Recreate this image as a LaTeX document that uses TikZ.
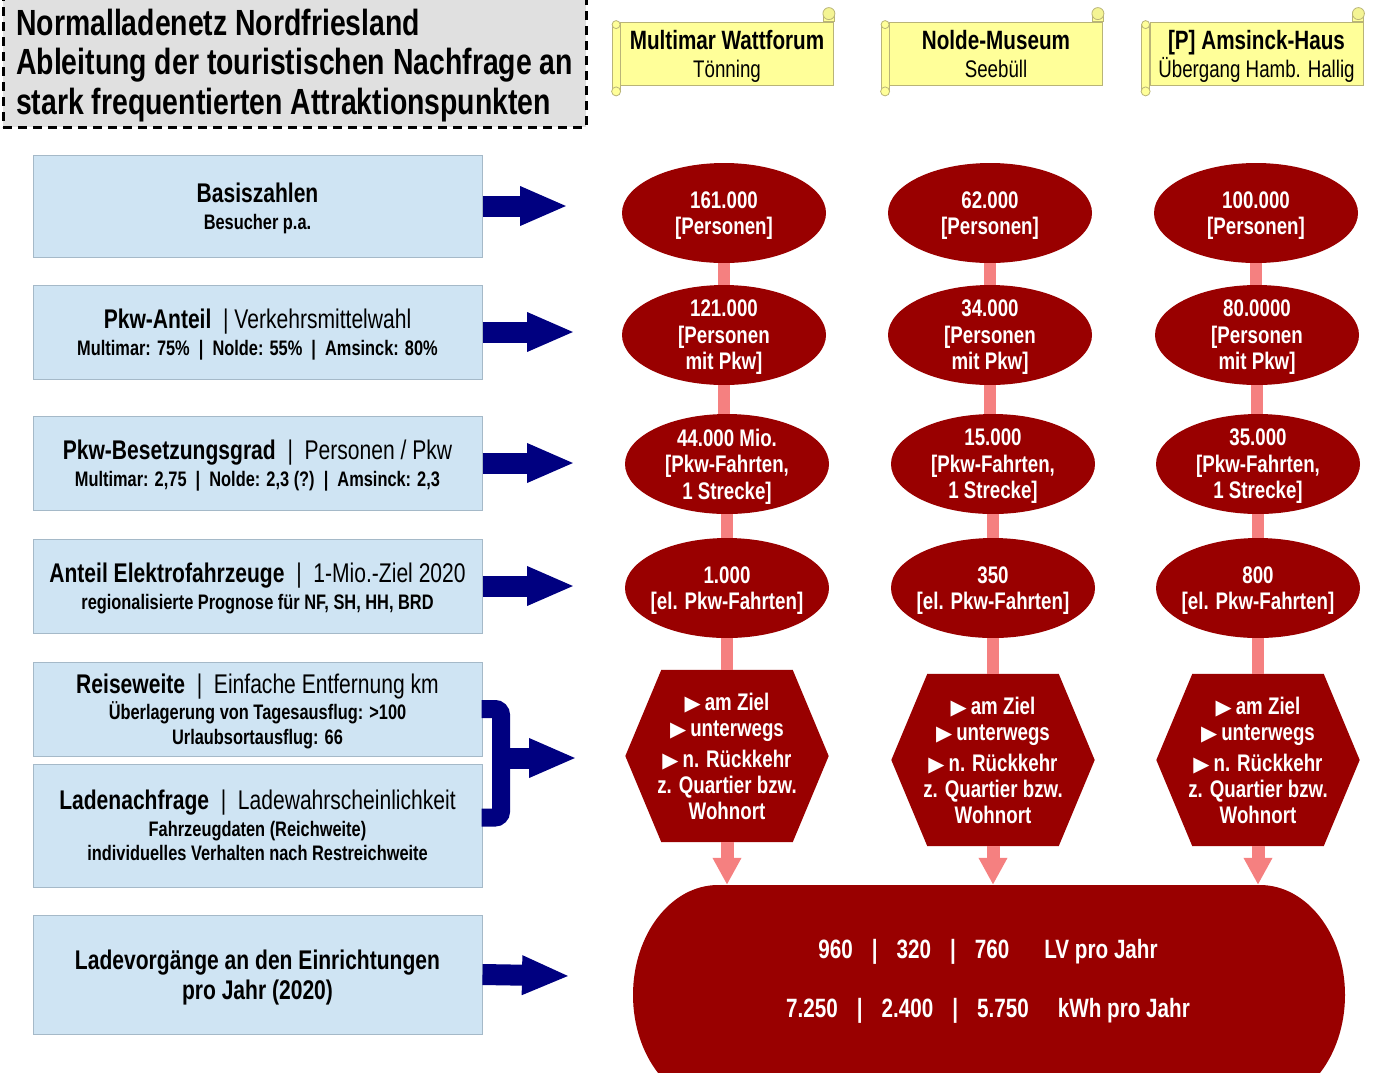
\documentclass[tikz,border=0pt]{standalone}
\usepackage{fontspec}
\setmainfont[FakeStretch=0.78]{Liberation Sans}
\newfontfamily\symfont{DejaVu Sans}
\usetikzlibrary{shapes.geometric,arrows.meta,backgrounds,calc}
\definecolor{dred}{RGB}{153,0,0}
\definecolor{pinkc}{RGB}{245,128,128}
\definecolor{navyc}{RGB}{0,0,128}
\definecolor{boxblue}{RGB}{207,228,243}
\definecolor{boxedge}{RGB}{165,185,200}
\definecolor{scrolly}{RGB}{255,255,153}
\definecolor{scrolle}{RGB}{185,180,120}
\definecolor{titlegray}{RGB}{224,224,224}
\newcommand\hdA{\fontsize{27}{27}\selectfont}
\newcommand\tri{{\fontsize{21}{26}\selectfont\symfont ▶}\,}
\newcommand\hexfill[1]{\fill[dred] (#1.west) -- ([xshift=36pt]#1.north west) -- ([xshift=-36pt]#1.north east) -- (#1.east) -- ([xshift=-36pt]#1.south east) -- ([xshift=36pt]#1.south west) -- cycle;}
\newcommand\scrolldeco[1]{%
  \filldraw[fill=scrolly,draw=scrolle,line width=0.8pt] ([xshift=-8pt,yshift=-3pt]#1.north west) rectangle ([yshift=-6pt]#1.south west);
  \filldraw[fill=scrolly,draw=scrolle,line width=0.8pt] ([xshift=-4pt,yshift=-6pt]#1.south west) circle[radius=4.5pt];
  \filldraw[fill=scrolly,draw=scrolle,line width=0.8pt] ([xshift=-4pt,yshift=-3pt]#1.north west) circle[radius=4pt];
  \filldraw[fill=scrolly,draw=scrolle,line width=0.8pt] ([xshift=-11pt]#1.north east) rectangle ([yshift=8pt]#1.north east);
  \filldraw[fill=scrolly!85!scrolle,draw=scrolle,line width=0.8pt] ([xshift=-5pt,yshift=8pt]#1.north east) circle[radius=6pt];
}
\begin{document}
\begin{tikzpicture}[x=1pt,y=-1pt,
  leftbox/.style={draw=boxedge, fill=boxblue, line width=1pt, minimum width=449pt, inner sep=0pt, text depth=0pt, align=center, font=\fontsize{21}{27}\selectfont\bfseries},
  redell/.style={ellipse, fill=dred, minimum width=204pt, minimum height=100pt, inner xsep=-5pt, inner ysep=-8pt, text depth=0pt, align=center, text=white, font=\fontsize{24}{26.5}\selectfont\bfseries},
  hexnode/.style={rectangle, minimum width=203pt, minimum height=172pt, inner sep=0pt, text depth=0pt, align=center, text=white, font=\fontsize{24}{26}\selectfont\bfseries},
  scrollbody/.style={draw=scrolle, fill=scrolly, line width=0.8pt, minimum width=213pt, minimum height=63pt, inner sep=0pt, text depth=0pt, align=center, font=\fontsize{24}{28}\selectfont},
  titlebox/.style={draw=black, fill=titlegray, line width=3pt, dash pattern=on 9pt off 6pt, minimum width=583pt, minimum height=137pt, inner sep=0pt},
  totalnode/.style={minimum width=712pt, minimum height=187pt, inner sep=0pt, text depth=0pt, align=center, text=white, font=\fontsize{26.5}{59}\selectfont\bfseries},
  bluearrow/.style={draw=navyc, line width=21pt, -{Triangle[length=48pt,width=36pt]}},
  bracestyle/.style={draw=navyc, line width=18pt, rounded corners=6pt},
  pinkline/.style={draw=pinkc, line width=12pt},
  pinkarrow/.style={draw=pinkc, line width=13pt, -{Triangle[length=27pt,width=27pt]}},
]
\useasboundingbox (0,0) rectangle (1375,1072);
\clip (0,0) rectangle (1375,1072);

% title
\node[titlebox] (title) at (294.5,58.5) {};
\node[anchor=west, align=left, inner sep=0pt, text depth=0pt, font=\fontsize{36.4}{39.5}\selectfont\bfseries] (ttext) at (16,61.5)
  {Normalladenetz Nordfriesland\\Ableitung der touristischen Nachfrage an\\stark frequentierten Attraktionspunkten};

% scrolls
\node[scrollbody] (s1) at (727,53.5) {{\fontsize{26.5}{28}\selectfont\bfseries Multimar Wattforum}\\Tönning};
\node[scrollbody] (s2) at (996,53.5) {{\fontsize{26.5}{28}\selectfont\bfseries Nolde-Museum}\\Seebüll};
\node[scrollbody] (s3) at (1256.5,53.5) {{\fontsize{26.5}{28}\selectfont\bfseries [P] Amsinck-Haus}\\Übergang Hamb. Hallig};
\begin{scope}[on background layer]
\scrolldeco{s1}\scrolldeco{s2}\scrolldeco{s3}
\end{scope}

% left boxes
\node[leftbox, minimum height=102pt] (b1) at (257.5,206) {{\hdA Basiszahlen}\\Besucher p.a.};
\node[leftbox, minimum height=94pt] (b2) at (257.5,332) {{\hdA Pkw-Anteil\ \ {\mdseries|\ Verkehrsmittelwahl}}\\Multimar: 75\%\ \ |\ \ Nolde: 55\%\ \ |\ \ Amsinck: 80\%};
\node[leftbox, minimum height=94pt] (b3) at (257.5,463) {{\hdA Pkw-Besetzungsgrad\ \ {\mdseries|\ \ Personen / Pkw}}\\Multimar: 2,75\ \ |\ \ Nolde: 2,3 (?)\ \ |\ \ Amsinck: 2,3};
\node[leftbox, minimum height=94pt] (b4) at (257.5,586) {{\hdA Anteil Elektrofahrzeuge\ \ {\mdseries|\ \ 1-Mio.-Ziel 2020}}\\regionalisierte Prognose für NF, SH, HH, BRD};
\node[leftbox, minimum height=94pt, font=\fontsize{21}{24.5}\selectfont\bfseries] (b5) at (257.5,709) {{\hdA Reiseweite\ \ {\mdseries|\ \ Einfache Entfernung km}}\\[1.5pt]Überlagerung von Tagesausflug: >100\\Urlaubsortausflug: 66};
\node[leftbox, minimum height=123pt, font=\fontsize{21}{24}\selectfont\bfseries] (b6) at (257.5,825.5) {{\hdA Ladenachfrage\ \ {\mdseries|\ \ Ladewahrscheinlichkeit}}\\[3pt]Fahrzeugdaten (Reichweite)\\individuelles Verhalten nach Restreichweite};
\node[leftbox, minimum height=119pt, font=\fontsize{27}{30}\selectfont\bfseries] (b7) at (257.5,974.5) {Ladevorgänge an den Einrichtungen\\pro Jahr (2020)};

% blue arrows
\coordinate (t1) at (568,206);
\coordinate (t2) at (575,332);
\coordinate (t3) at (575,463);
\coordinate (t4) at (575,586);
\coordinate (t7) at (570,976);
\coordinate (bm) at (501,758);
\coordinate (tb) at (577,758);
\draw[bluearrow] (b1.east) -- (t1);
\draw[bluearrow] (b2.east) -- (t2);
\draw[bluearrow] (b3.east) -- (t3);
\draw[bluearrow] (b4.east) -- (t4);
\draw[bluearrow] (b7.east) -- (t7);
\draw[bracestyle] ([xshift=-1pt]b5.east) -| (bm) |- ([xshift=-1pt,yshift=8pt]b6.east);
\draw[bluearrow] (bm) -- (tb);

% red ellipses
\node[redell] (e11) at (724,213) {161.000\\{[}Personen{]}};
\node[redell] (e12) at (990,213) {62.000\\{[}Personen{]}};
\node[redell] (e13) at (1256,213) {100.000\\{[}Personen{]}};
\node[redell] (e21) at (724,335) {121.000\\{[}Personen\\mit Pkw{]}};
\node[redell] (e22) at (990,335) {34.000\\{[}Personen\\mit Pkw{]}};
\node[redell] (e23) at (1257,335) {80.0000\\{[}Personen\\mit Pkw{]}};
\node[redell] (e31) at (727,464) {44.000 Mio.\\{[}Pkw-Fahrten,\\1 Strecke{]}};
\node[redell] (e32) at (993,464) {15.000\\{[}Pkw-Fahrten,\\1 Strecke{]}};
\node[redell] (e33) at (1258,464) {35.000\\{[}Pkw-Fahrten,\\1 Strecke{]}};
\node[redell] (e41) at (727,588) {1.000\\{[}el. Pkw-Fahrten{]}};
\node[redell] (e42) at (993,588) {350\\{[}el. Pkw-Fahrten{]}};
\node[redell] (e43) at (1258,588) {800\\{[}el. Pkw-Fahrten{]}};

% hexagons
\node[hexnode] (h1) at (727,756) {\tri am Ziel\\\tri unterwegs\\[5pt]\tri n. Rückkehr\\z. Quartier bzw.\\Wohnort};
\node[hexnode] (h2) at (993,760) {\tri am Ziel\\\tri unterwegs\\[5pt]\tri n. Rückkehr\\z. Quartier bzw.\\Wohnort};
\node[hexnode] (h3) at (1258,760) {\tri am Ziel\\\tri unterwegs\\[5pt]\tri n. Rückkehr\\z. Quartier bzw.\\Wohnort};
\begin{scope}[on background layer]
\hexfill{h1}\hexfill{h2}\hexfill{h3}
\end{scope}

% total
\node[totalnode] (total) at (988,978.5) {960\hspace{19pt}|\hspace{19pt}320\hspace{19pt}|\hspace{19pt}760\hspace{35pt}LV pro Jahr\\7.250\hspace{19pt}|\hspace{19pt}2.400\hspace{19pt}|\hspace{19pt}5.750\hspace{29pt}kWh pro Jahr};
\begin{scope}[on background layer]
\fill[dred] (718,885) -- (1260,885) .. controls (1306.9,885) and (1345,934.2) .. (1345,995)
  .. controls (1345,1055.8) and (1306.9,1105) .. (1260,1105) -- (718,1105)
  .. controls (671.1,1105) and (633,1055.8) .. (633,995)
  .. controls (633,934.2) and (671.1,885) .. (718,885) -- cycle;
\end{scope}

% pink connectors
\foreach \c in {1,2,3}{
  \draw[pinkline] (e1\c.south) -- (e1\c.south |- e2\c.north);
  \draw[pinkline] (e2\c.south) -- (e2\c.south |- e3\c.north);
  \draw[pinkline] (e3\c.south) -- (e3\c.south |- e4\c.north);
  \draw[pinkline] (e4\c.south) -- (e4\c.south |- h\c.north);
  \draw[pinkarrow] (h\c.south) -- (h\c.south |- total.north);
}
\end{tikzpicture}
\end{document}
